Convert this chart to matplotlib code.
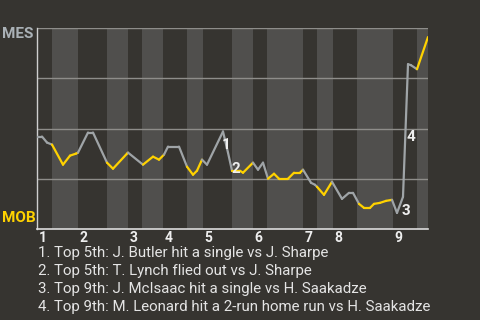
import matplotlib
matplotlib.use("Agg")
import matplotlib.pyplot as plt
from matplotlib.collections import LineCollection
import matplotlib.transforms as mtransforms
import numpy as np

# game progress (arbitrary units) and MES win probability
prog = [0, 5, 10, 15, 26, 33, 39, 41, 51, 56, 70, 76, 90, 91, 106, 116, 122, 127,
        131, 142, 150, 156, 160, 165, 170, 186, 191, 195, 203, 206, 216, 221, 226,
        231, 237, 242, 251, 257, 263, 266, 274, 278, 280, 287, 295, 305, 312, 316,
        322, 327, 333, 337, 343, 349, 355, 360, 366, 371, 374, 380, 391]
wp = [0.46, 0.46, 0.43, 0.42, 0.32, 0.365, 0.375, 0.38, 0.48, 0.48, 0.33, 0.30,
      0.375, 0.38, 0.32, 0.36, 0.345, 0.37, 0.41, 0.41, 0.31, 0.27, 0.29, 0.345,
      0.32, 0.485, 0.38, 0.29, 0.29, 0.28, 0.33, 0.295, 0.33, 0.25, 0.275, 0.25,
      0.25, 0.28, 0.28, 0.295, 0.23, 0.22, 0.21, 0.17, 0.235, 0.15, 0.18, 0.18,
      0.125, 0.105, 0.105, 0.125, 0.13, 0.14, 0.145, 0.08, 0.16, 0.82, 0.815,
      0.795, 0.955]

# start of each half inning (top 1, bot 1, top 2, ...)
half_starts = [0, 15, 41, 70, 91, 105, 126, 150, 166, 195, 216, 230, 266, 280,
               296, 320, 356, 380]
game_end = 391
innings = ["1", "2", "3", "4", "5", "6", "7", "8", "9"]

# key plays
play_num = ["1", "2", "3", "4"]
play_x = [189, 199, 369, 374]
play_y = [0.42, 0.30, 0.09, 0.46]
plays = ["Top 5th: J. Butler hit a single vs J. Sharpe",
         "Top 5th: T. Lynch flied out vs J. Sharpe",
         "Top 9th: J. McIsaac hit a single vs H. Saakadze",
         "Top 9th: M. Leonard hit a 2-run home run vs H. Saakadze"]

bg = "#363430"
band = "#504f4d"
gray = "#9fa4a7"
yellow = "#ffd200"
plt.rcParams["font.family"] = ["Roboto", "DejaVu Sans"]

fig = plt.figure(figsize=(4.8, 3.2), dpi=100, facecolor=bg)
ax = fig.add_axes([37 / 480, 91 / 320, 391 / 480, 201 / 320])
ax.set_facecolor(bg)

ends = half_starts[1:] + [game_end]
for i, (s, e) in enumerate(zip(half_starts, ends)):
    if i % 2 == 1:
        ax.axvspan(s, e, color=band, lw=0, zorder=0)

for yv in [0.25, 0.5, 0.75, 1.0]:
    ax.axhline(yv, color="#8e8d8a", lw=1, zorder=1)

# colour each segment by which team is batting
pts = np.column_stack([prog, wp])
segs = np.stack([pts[:-1], pts[1:]], axis=1)
cols = []
for a, b in zip(prog[:-1], prog[1:]):
    mid = (a + b) / 2
    idx = np.searchsorted(half_starts, mid, side="right") - 1
    cols.append(yellow if idx % 2 == 1 else gray)
lc = LineCollection(segs, colors=cols, linewidths=1.6, zorder=3,
                    capstyle="round", joinstyle="round")
ax.add_collection(lc)

for n, x, y in zip(play_num, play_x, play_y):
    ax.text(x, y, n, color="#eeeeee", fontsize=11, fontweight="bold",
            ha="center", va="center", zorder=4)

ax.set_xlim(0, game_end)
ax.set_ylim(0, 1)
ax.set_xticks([])
ax.set_yticks([])
for side in ["top", "right"]:
    ax.spines[side].set_visible(False)
ax.spines["left"].set_color("#cfcfcf")
ax.spines["bottom"].set_color("#dcdcdc")
ax.spines["left"].set_linewidth(1)
ax.spines["bottom"].set_linewidth(1.2)

trans = mtransforms.blended_transform_factory(ax.transData, ax.transAxes)
for lab, s in zip(innings, half_starts[::2]):
    ax.text(s + 1.5, -0.01, lab, transform=trans, color="#eeeeee", fontsize=10,
            fontweight="bold", ha="left", va="top")

fig.text(2 / 480, 1 - 34 / 320, "MES", color="#aab1b6", fontsize=11,
         fontweight="bold", va="center", ha="left")
fig.text(2 / 480, 1 - 218 / 320, "MOB", color=yellow, fontsize=11,
         fontweight="bold", va="center", ha="left")

for i, p in enumerate(plays):
    fig.text(38 / 480, 1 - (253 + 17.9 * i) / 320, f"{i + 1}. {p}",
             color="#e4e4e4", fontsize=10.8, va="center", ha="left")

fig.savefig("out.png", dpi=100, facecolor=bg)
